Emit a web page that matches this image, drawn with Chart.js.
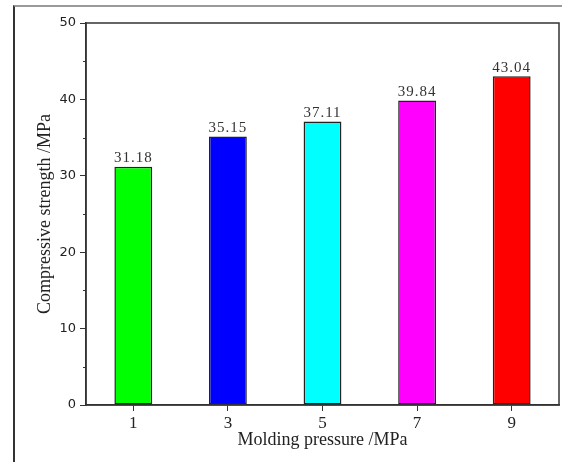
<!DOCTYPE html>
<html>
<head>
<meta charset="utf-8">
<script src="https://cdn.jsdelivr.net/npm/chart.js@4/dist/chart.umd.min.js"></script>
<style>
  html, body { margin: 0; padding: 0; background: #fff; }
  #wrap { position: relative; width: 562px; height: 462px; overflow: hidden; }
  #frame { position: absolute; left: 13px; top: 5px; width: 600px; height: 500px;
           border-top: 2px solid #9a9a9a; border-left: 2px solid #333; box-sizing: border-box; }
  canvas { position: absolute; left: 0; top: 0; }
</style>
</head>
<body>
<div id="wrap">
  <div id="frame"></div>
  <canvas id="c" width="562" height="462"></canvas>
</div>
<script>
const categories = ['1', '3', '5', '7', '9'];
const strengthValues = [31.18, 35.15, 37.11, 39.84, 43.04];
const barColors = ['#00ff00', '#0000ff', '#00ffff', '#ff00ff', '#ff0000'];
const yMin = 0, yMax = 50, yStep = 10, yMinorStep = 5;
const xTitle = 'Molding pressure /MPa';
const yTitle = 'Compressive strength /MPa';

const framePlugin = {
  id: 'framePlugin',
  afterDraw(chart) {
    const {ctx, chartArea: a} = chart;
    ctx.save();
    ctx.strokeStyle = '#333';
    ctx.lineWidth = 1.5;
    ctx.strokeRect(a.left, a.top, a.right - a.left, a.bottom - a.top);
    // minor ticks
    const ys = chart.scales.y;
    ctx.lineWidth = 1;
    for (let v = yMin + yMinorStep; v < yMax; v += yStep) {
      const py = Math.round(ys.getPixelForValue(v)) + 0.5;
      ctx.beginPath();
      ctx.moveTo(a.left - 3, py);
      ctx.lineTo(a.left, py);
      ctx.stroke();
    }
    ctx.restore();
  }
};

const valueLabels = {
  id: 'valueLabels',
  afterDatasetsDraw(chart) {
    const {ctx} = chart;
    const meta = chart.getDatasetMeta(0);
    ctx.save();
    ctx.font = '15px "Liberation Serif", serif';
    try { ctx.letterSpacing = '1px'; } catch (e) {}
    ctx.fillStyle = '#333';
    ctx.textAlign = 'center';
    ctx.textBaseline = 'bottom';
    meta.data.forEach((bar, i) => {
      ctx.fillText(strengthValues[i].toFixed(2), bar.x, bar.y - 1);
    });
    ctx.restore();
  }
};

new Chart(document.getElementById('c'), {
  type: 'bar',
  data: {
    labels: categories,
    datasets: [{
      data: strengthValues,
      backgroundColor: barColors,
      borderColor: '#222',
      borderWidth: 1.5,
      borderSkipped: false,
      barPercentage: 0.4,
      categoryPercentage: 1.0
    }]
  },
  options: {
    responsive: false,
    animation: false,
    devicePixelRatio: 1,
    layout: { padding: { top: 23, right: 3, left: 0, bottom: 0 } },
    plugins: { legend: { display: false }, tooltip: { enabled: false } },
    scales: {
      x: {
        type: 'category',
        offset: true,
        afterFit(scale) { scale.height = 57; },
        grid: { drawOnChartArea: false, tickLength: 6, color: '#333', offset: false },
        border: { display: true, color: '#333', width: 1.5 },
        ticks: { color: '#222', font: { family: '"Liberation Serif", serif', size: 17 }, padding: 2 },
        title: { display: true, text: xTitle, color: '#222',
                 font: { family: '"Liberation Serif", serif', size: 18 }, padding: { top: 0, bottom: 11 } }
      },
      y: {
        min: yMin, max: yMax,
        afterFit(scale) { scale.width = 86; },
        grid: { drawOnChartArea: false, tickLength: 6, color: '#333' },
        border: { display: true, color: '#333', width: 1.5 },
        ticks: { stepSize: yStep, color: '#222', font: { family: '"DejaVu Sans", sans-serif', size: 13 }, padding: 4 },
        title: { display: true, text: yTitle, color: '#222',
                 font: { family: '"Liberation Serif", serif', size: 18 }, padding: { top: 34, bottom: 0 } }
      }
    }
  },
  plugins: [framePlugin, valueLabels]
});
</script>
</body>
</html>
